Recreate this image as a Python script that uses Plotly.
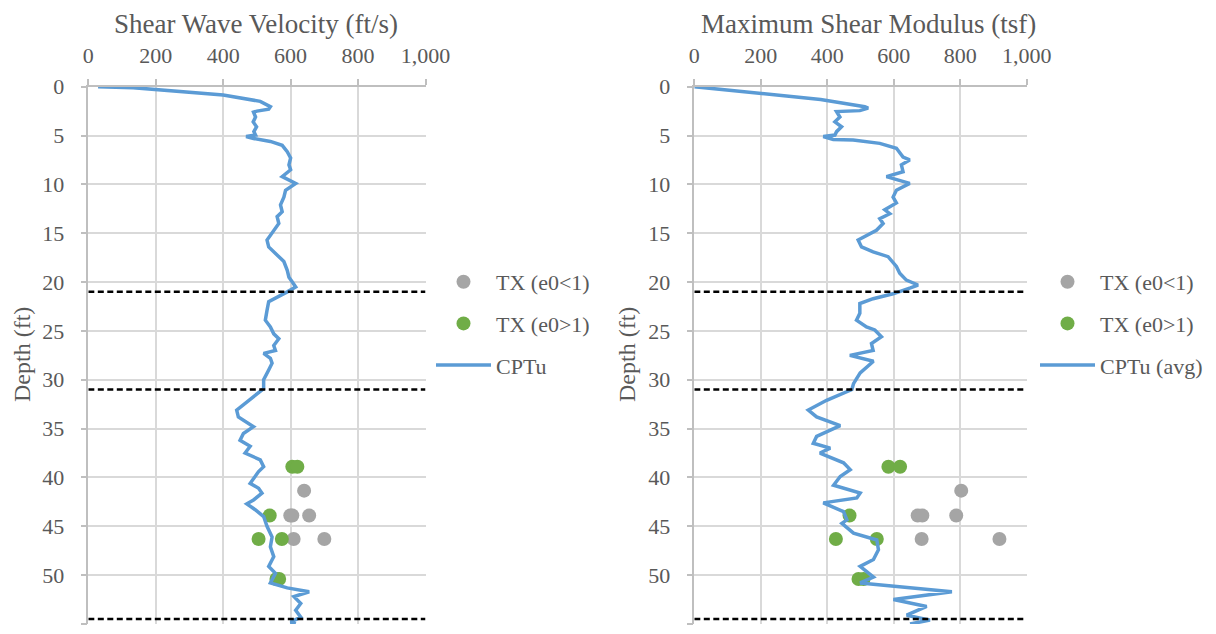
import plotly.graph_objects as go

# ---- CPTu shear wave velocity profile (depth ft, Vs ft/s) ----
vs_depth = [0, 0.1, 0.85, 1.5, 2.05, 2.3, 2.5, 2.6, 3.1, 3.6, 4.1, 4.6, 4.95, 5.1, 5.3, 5.6, 6.0,
            6.65, 7.3, 8.0, 8.5, 9.2, 9.9, 10.6, 11.3, 12.1, 12.8, 13.3, 14.0, 14.7, 15.7, 16.4,
            17.1, 17.9, 18.8, 19.5, 20.0, 20.5, 21.0, 21.5, 22.0, 22.9, 23.9, 24.6, 25.3, 25.8,
            26.5, 27.0, 27.3, 27.8, 28.3, 29.0, 30.0, 30.9, 31.7, 32.6, 33.1, 33.8, 34.3, 34.8,
            35.5, 36.2, 36.8, 37.5, 38.2, 38.9, 39.4, 40.1, 40.6, 41.1, 41.6, 42.3, 42.7, 43.3,
            44.0, 45.0, 46.1, 47.1, 48.1, 49.1, 49.8, 50.8, 51.3, 51.7, 52.2, 52.9, 53.6, 54.3,
            54.8, 55.0]
vs_cptu = [29, 133, 400, 510, 540, 535, 500, 490, 496, 489, 499, 491, 496, 468, 490, 540, 575,
           590, 600, 595, 600, 575, 615, 585, 580, 570, 575, 560, 565, 550, 530, 535,
           555, 580, 590, 595, 605, 615, 590, 560, 535, 530, 525, 540, 550, 565,
           550, 555, 520, 540, 545, 535, 520, 520, 490, 460, 440, 445, 470, 490,
           460, 450, 480, 465, 510, 520, 505, 490, 480, 505, 515, 490, 470, 495,
           520, 530, 545, 540, 550, 535, 555, 540, 590, 655, 610, 630, 615, 630,
           600, 615]

# ---- CPTu maximum shear modulus profile (depth ft, Gmax tsf) ----
g_depth = [0, 0.4, 0.85, 1.3, 2.05, 2.2, 2.45, 2.55, 3.1, 3.6, 4.1, 4.6, 4.95, 5.1, 5.4, 5.45,
           5.8, 6.3, 7.2, 7.5, 8.0, 8.7, 9.2, 9.9, 10.6, 11.3, 11.9, 12.6, 13.0, 13.5, 14.0,
           14.7, 15.7, 16.4, 16.9, 17.4, 18.4, 19.1, 19.8, 20.3, 20.6, 21.2, 21.7, 22.2, 23.2,
           23.9, 24.6, 24.9, 25.6, 26.3, 27.0, 27.5, 28.1, 29.3, 30.4, 31.0, 32.1, 33.1, 33.8,
           34.3, 34.7, 35.8, 36.5, 37.0, 37.5, 38.5, 39.2, 39.9, 40.8, 41.6, 42.1, 42.6, 43.5,
           44.35, 44.7, 45.7, 46.4, 47.4, 48.4, 49.1, 50.2, 50.8, 51.7, 52.5, 53.2, 54.1, 54.6,
           55.0]
g_cptu = [0, 120, 250, 380, 513, 523, 498, 428, 438, 423, 443, 428, 423, 388, 418, 478,
          558, 608, 628, 648, 623, 628, 578, 648, 608, 598, 608, 573, 588, 558, 568,
          548, 493, 503, 538, 583, 608, 618, 638, 673, 650, 598, 538, 498, 498,
          488, 518, 543, 563, 533, 538, 468, 539, 499, 479, 474, 398, 343, 368,
          409, 439, 368, 358, 409, 378, 449, 469, 439, 419, 499, 489, 388, 449,
          459, 444, 479, 549, 554, 539, 499, 539, 499, 775, 599, 699, 639, 709,
          649]

# ---- Triaxial test results ----
tx_lo_depth = [41.35, 43.9, 43.9, 43.9, 46.3, 46.3]
tx_lo_vs = [640, 599, 605, 655, 609, 700]
tx_lo_g = [803, 672, 686, 788, 684, 918]

tx_hi_depth = [38.9, 38.9, 43.9, 46.3, 46.3, 50.4, 50.4]
tx_hi_vs = [605, 620, 538, 505, 574, 558, 566]
tx_hi_g = [584, 619, 467, 426, 549, 494, 509]

# Stratigraphic boundaries (ft)
layer_breaks = [21.0, 31.0, 54.5]

W, H = 1216, 634
FONT = "Liberation Serif, Times New Roman, serif"
TXT = "#595959"
GRAY = "#a5a5a5"
GREEN = "#70ad47"
BLUE = "#5b9bd5"

fig = go.Figure()

panels = [
    ("x", "y", "legend", vs_cptu, tx_lo_vs, tx_hi_vs, "CPTu"),
    ("x2", "y2", "legend2", g_cptu, tx_lo_g, tx_hi_g, "CPTu (avg)"),
]
for xa, ya, lg, line_vals, lo_vals, hi_vals, line_name in panels:
    depth_line = vs_depth if xa == "x" else g_depth
    fig.add_trace(go.Scatter(x=lo_vals, y=tx_lo_depth, mode="markers", name="TX (e0<1)",
                             marker=dict(color=GRAY, size=14), xaxis=xa, yaxis=ya,
                             legend=lg, legendgroup=lg + "a"))
    fig.add_trace(go.Scatter(x=hi_vals, y=tx_hi_depth, mode="markers", name="TX (e0>1)",
                             marker=dict(color=GREEN, size=14), xaxis=xa, yaxis=ya,
                             legend=lg, legendgroup=lg + "b"))
    fig.add_trace(go.Scatter(x=line_vals, y=depth_line, mode="lines", name=line_name,
                             line=dict(color=BLUE, width=3.5), xaxis=xa, yaxis=ya,
                             legend=lg, legendgroup=lg + "c"))
    for d in layer_breaks:
        fig.add_shape(type="line", xref=xa, yref=ya, x0=0, x1=1000, y0=d, y1=d,
                      line=dict(color="black", width=2.5, dash="6px,3.5px"))

y_top, y_bot = 86.7, 624
ydom = [1 - y_bot / H, 1 - y_top / H]
xdom1 = [88.3 / W, 425.5 / W]
xdom2 = [694.3 / W, 1026.7 / W]

xcommon = dict(range=[0, 1000], dtick=200, tick0=0, side="top", tickformat=",d",
               showgrid=True, gridcolor="#d9d9d9", gridwidth=1.5, zeroline=False,
               showline=True, linecolor="#bfbfbf", linewidth=1.5,
               ticks="outside", ticklen=6, tickcolor="#bfbfbf", tickwidth=1.5,
               tickfont=dict(family=FONT, size=22, color=TXT), automargin=False,
               ticklabelstandoff=7)
ycommon = dict(range=[55, 0], dtick=5, tick0=0,
               showgrid=True, gridcolor="#d9d9d9", gridwidth=1.5, zeroline=False,
               showline=True, linecolor="#bfbfbf", linewidth=1.5,
               ticks="outside", ticklen=6, tickcolor="#bfbfbf", tickwidth=1.5,
               tickfont=dict(family=FONT, size=22, color=TXT), automargin=False,
               ticklabelstandoff=12, domain=ydom)

legcommon = dict(font=dict(family=FONT, size=22, color=TXT), bgcolor="rgba(0,0,0,0)",
                 xanchor="left", yanchor="top", itemwidth=55, tracegroupgap=10,
                 traceorder="grouped")

fig.update_layout(
    width=W, height=H, template="none",
    paper_bgcolor="white", plot_bgcolor="white",
    margin=dict(l=0, r=0, t=0, b=0),
    xaxis=dict(domain=xdom1, anchor="y", **xcommon),
    yaxis=dict(anchor="x", **ycommon),
    xaxis2=dict(domain=xdom2, anchor="y2", **xcommon),
    yaxis2=dict(anchor="x2", **ycommon),
    legend=dict(x=431 / W, y=1 - 261 / H, **legcommon),
    legend2=dict(x=1035 / W, y=1 - 261 / H, **legcommon),
    annotations=[
        dict(text="Shear Wave Velocity (ft/s)", x=256 / W, y=1 - 24 / H,
             xref="paper", yref="paper", showarrow=False, xanchor="center", yanchor="middle",
             font=dict(family=FONT, size=27, color=TXT)),
        dict(text="Maximum Shear Modulus (tsf)", x=868 / W, y=1 - 24 / H,
             xref="paper", yref="paper", showarrow=False, xanchor="center", yanchor="middle",
             font=dict(family=FONT, size=27, color=TXT)),
        dict(text="Depth (ft)", x=22 / W, y=1 - 355 / H, textangle=-90,
             xref="paper", yref="paper", showarrow=False, xanchor="center", yanchor="middle",
             font=dict(family=FONT, size=24, color=TXT)),
        dict(text="Depth (ft)", x=627 / W, y=1 - 355 / H, textangle=-90,
             xref="paper", yref="paper", showarrow=False, xanchor="center", yanchor="middle",
             font=dict(family=FONT, size=24, color=TXT)),
    ],
)

fig.write_html("out.html")
